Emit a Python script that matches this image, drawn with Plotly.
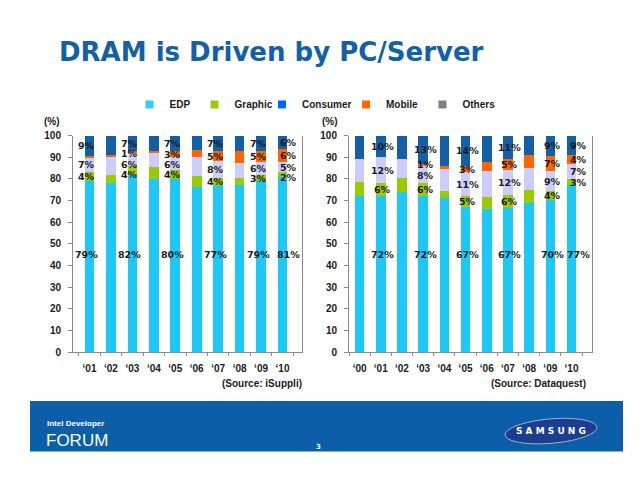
import math
import plotly.graph_objects as go

# ---------------- data ----------------
segments = ["EDP", "Graphic", "Consumer", "Mobile", "Others"]
legend_colors = ["#33CCFF", "#99CC00", "#0066FF", "#FF6600", "#808080"]
bar_colors = ["#1CC8F8", "#99CC00", "#CCCCFF", "#FF6600", "#1360A8"]

left_years = ["‘01", "‘02", "‘03", "‘04", "‘05", "‘06", "‘07", "‘08", "‘09", "‘10"]
left_edp = [79, 78, 82, 80, 80, 76.5, 76.6, 77, 79, 81]
left_graphic = [4, 4, 4, 5.5, 4, 5, 4.0, 3.5, 3, 2]
left_consumer = [7, 8.5, 6, 6.5, 6, 8.5, 7.6, 7, 6, 5]
left_mobile = [0.6, 0.5, 1, 1, 3, 3.5, 4.8, 5.5, 5, 6]
left_others = [9.4, 9, 7, 7, 7, 6.5, 7.0, 7, 7, 6]
left_labeled = ["‘01", "‘03", "‘05", "‘07", "‘09", "‘10"]

right_years = ["‘00", "‘01", "‘02", "‘03", "‘04", "‘05", "‘06", "‘07", "‘08", "‘09", "‘10"]
right_edp = [72, 72, 74, 72, 71, 67, 66, 66.6, 69, 70.2, 77]
right_graphic = [6.5, 6, 6.5, 6, 3.5, 5, 5.5, 5.8, 6, 4.1, 3]
right_consumer = [10.5, 12, 8.5, 8, 10, 11, 12, 11.6, 10, 9.3, 7]
right_mobile = [0, 0, 0, 1, 1.5, 3, 4.5, 5.0, 6, 7.0, 4]
right_others = [11, 10, 11, 13, 14, 14, 12, 11.0, 9, 9.4, 9]
right_labeled = ["‘01", "‘03", "‘05", "‘07", "‘09", "‘10"]

title_text = "DRAM is Driven by PC/Server"
left_source = "(Source: iSuppli)"
right_source = "(Source: Dataquest)"
edp_label_y = 45

FONT = "DejaVu Sans"
AFONT = "Liberation Sans, Arial, sans-serif"
W, H = 640, 480


def px(x):
    return x / W


def py(y):
    return 1 - y / H


fig = go.Figure()
label_annots = []
MIN_GAP = 4.8  # minimum vertical spacing between stacked labels (axis units)


def add_chart(years, series, labeled, xa, ya, shift, last_shift):
    cum = [0.0] * len(years)
    mids = {yr: [] for yr in years}
    for name, vals, col in zip(segments, series, bar_colors):
        fig.add_trace(go.Bar(x=years, y=vals, name=name, marker=dict(color=col, line=dict(width=0)),
                             xaxis=xa, yaxis=ya, showlegend=False, hoverinfo="skip"))
        for i, (yr, v) in enumerate(zip(years, vals)):
            if yr in labeled and v >= 1:
                mids[yr].append((name, cum[i] + v / 2, f"{round(v)}%"))
            cum[i] += v
    for i, yr in enumerate(years):
        items = mids[yr]
        ceiling = 100 - 2.4
        placed = []
        for name, m, txt in reversed(items):
            if name == "EDP":
                yy = edp_label_y
            else:
                yy = min(m, ceiling)
                ceiling = yy - MIN_GAP
            placed.append((yy, txt))
        for yy, txt in placed:
            label_annots.append(dict(
                x=yr, y=yy, xref=xa, yref=ya, text=txt, showarrow=False,
                xshift=last_shift if i == len(years) - 1 else shift,
                font=dict(family=FONT, size=9.5, color="#1a1a1a", weight="bold")))


add_chart(left_years, [left_edp, left_graphic, left_consumer, left_mobile, left_others],
          left_labeled, "x", "y", -3, 6)
add_chart(right_years, [right_edp, right_graphic, right_consumer, right_mobile, right_others],
          right_labeled, "x2", "y2", 2, 7)

# legend entries, one small legend per entry so each sits where the slide puts it
legend_box_x = [151.5, 216.5, 284, 368, 444.5]
legend_layouts = {}
for k, (name, col, bx) in enumerate(zip(segments, legend_colors, legend_box_x)):
    lname = "legend" if k == 0 else f"legend{k + 1}"
    fig.add_trace(go.Scatter(x=[None], y=[None], mode="markers", name=name,
                             marker=dict(symbol="square", size=8, color=col),
                             xaxis="x", yaxis="y", showlegend=True, legend=lname))
    legend_layouts[lname] = dict(
        orientation="h", x=px(bx - 22), xanchor="left", y=py(101), yanchor="middle",
        font=dict(family=AFONT, size=10, color="#1a1a1a", weight="bold"),
        bgcolor="rgba(0,0,0,0)", itemwidth=30)

tickfont = dict(family=AFONT, size=10, color="#1a1a1a", weight="bold")
xcommon = dict(type="category", showline=True, linecolor="#8a8a8a", linewidth=1, tickangle=0,
               ticks="outside", tickson="boundaries", ticklen=3, tickcolor="#8a8a8a",
               ticklabelstandoff=7,
               tickfont=tickfont, showgrid=False, zeroline=False, fixedrange=True)
ycommon = dict(range=[0, 100], dtick=10, showline=True, mirror=True, linecolor="#8a8a8a",
               linewidth=1, ticks="outside", ticklen=4, tickcolor="#8a8a8a",
               ticklabelstandoff=5,
               tickfont=tickfont, showgrid=False, zeroline=False, fixedrange=True)

fig.update_layout(
    width=W, height=H,
    margin=dict(l=0, r=0, t=0, b=0),
    paper_bgcolor="white", plot_bgcolor="white",
    barmode="stack", bargap=0.55,
    xaxis=dict(domain=[px(73), px(302)], anchor="y", **xcommon),
    yaxis=dict(domain=[py(355), py(133)], anchor="x", **ycommon),
    xaxis2=dict(domain=[px(349), px(592)], anchor="y2", **xcommon),
    yaxis2=dict(domain=[py(355), py(133)], anchor="x2", **ycommon),
    showlegend=True,
    **legend_layouts,
)

annots = [
    dict(text=title_text, x=px(57), y=py(47), xanchor="left", yanchor="middle",
         font=dict(family=FONT, size=26, color="#1160A8", weight="bold")),
    dict(text="(%)", x=px(52), y=py(118), xanchor="center", yanchor="middle",
         font=dict(family=AFONT, size=10, color="#1a1a1a", weight="bold")),
    dict(text="(%)", x=px(330), y=py(118), xanchor="center", yanchor="middle",
         font=dict(family=AFONT, size=10, color="#1a1a1a", weight="bold")),
    dict(text=left_source, x=px(304), y=py(387), xanchor="right", yanchor="middle",
         font=dict(family=AFONT, size=10, color="#1a1a1a", weight="bold")),
    dict(text=right_source, x=px(588), y=py(387), xanchor="right", yanchor="middle",
         font=dict(family=AFONT, size=10, color="#1a1a1a", weight="bold")),
    dict(text="Intel Developer", x=px(45), y=py(428), xanchor="left", yanchor="middle",
         font=dict(family=AFONT, size=8, color="white", weight="bold")),
    dict(text="FORUM", x=px(44), y=py(446), xanchor="left", yanchor="middle",
         font=dict(family=AFONT, size=17, color="white")),
    dict(text="3", x=px(318), y=py(452), xanchor="center", yanchor="middle",
         font=dict(family=FONT, size=7, color="white", weight="bold")),
    dict(text="S A M S U N G", x=px(551), y=py(436), xanchor="center", yanchor="middle",
         font=dict(family=FONT, size=9, color="white", weight="bold")),
]
for a in annots:
    a.update(xref="paper", yref="paper", showarrow=False)
    fig.add_annotation(**a)
for a in label_annots:
    fig.add_annotation(**a)

fig.add_shape(type="rect", xref="paper", yref="paper", x0=px(30), x1=px(623), y0=py(457), y1=py(405),
              fillcolor="#0C5EA8", line=dict(width=0), layer="below")

# slightly tilted Samsung ellipse (decorative)
cx, cy, rx, ry, tilt = 551, 436, 46, 12.5, math.radians(-5)
pts = []
for k in range(73):
    t = 2 * math.pi * k / 72
    ex, ey = rx * math.cos(t), ry * math.sin(t)
    X = cx + ex * math.cos(tilt) - ey * math.sin(tilt)
    Y = cy + ex * math.sin(tilt) + ey * math.cos(tilt)
    pts.append(f"{px(X):.5f},{py(Y):.5f}")
fig.add_shape(type="path", xref="paper", yref="paper", path="M" + " L".join(pts) + " Z",
              fillcolor="#1B3F8E", line=dict(width=1, color="#9fb3d8"), layer="below")

fig.write_html("out.html", config={"displayModeBar": False},
               post_script="document.body.style.margin='0px';")
